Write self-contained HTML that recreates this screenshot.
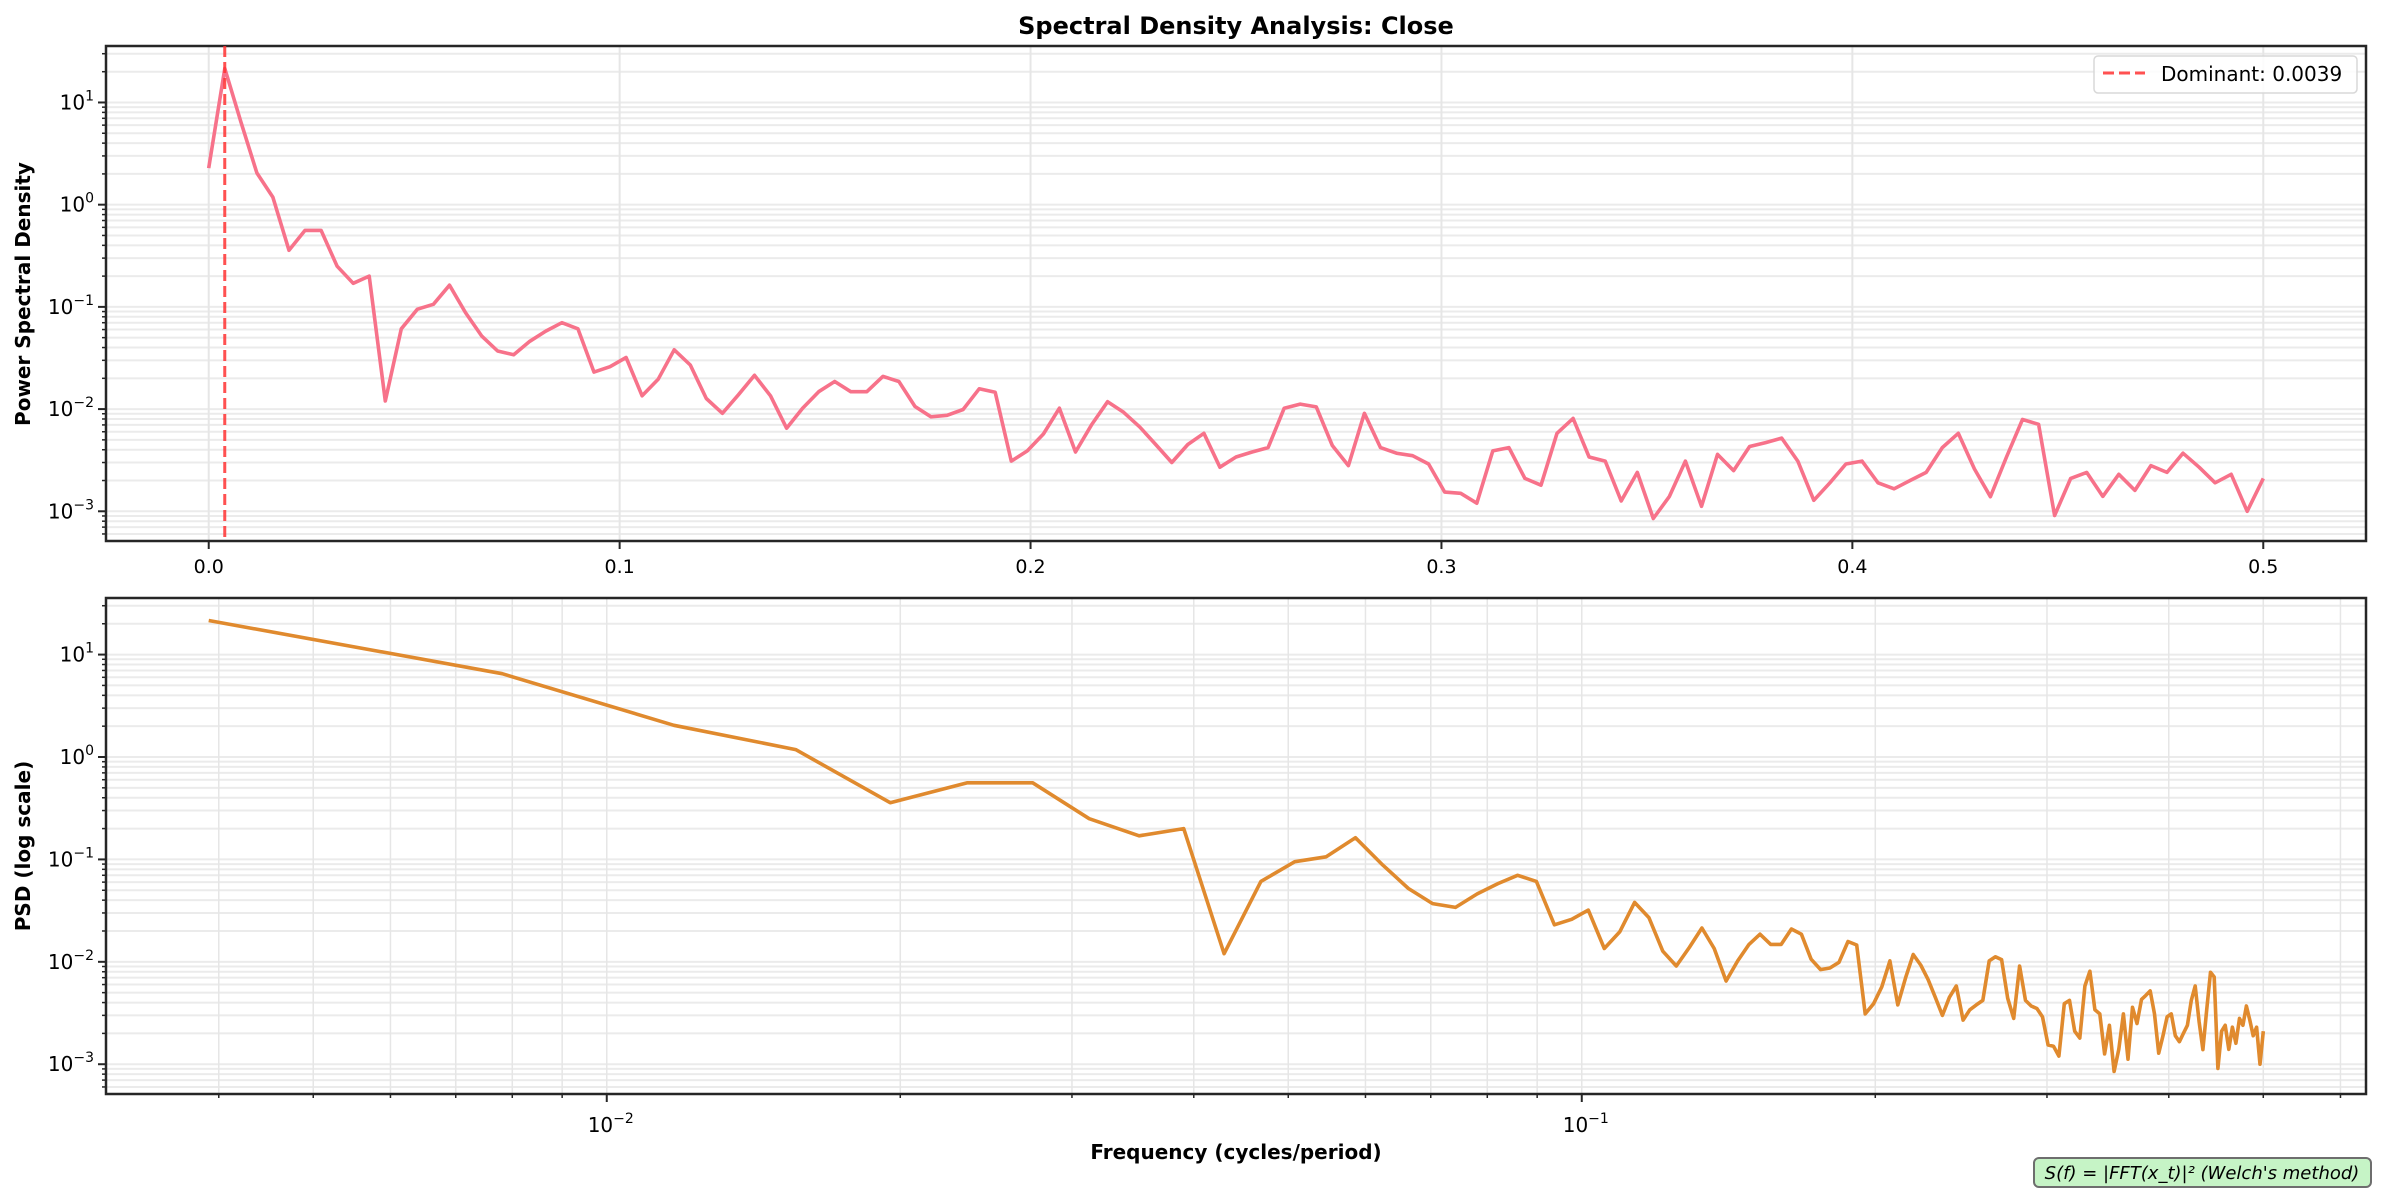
<!DOCTYPE html>
<html><head><meta charset="utf-8"><style>
html,body{margin:0;padding:0;background:#fff;}
svg{display:block;font-family:"DejaVu Sans","Liberation Sans",sans-serif;}
</style></head><body>
<svg id="chart" width="2383" height="1198" viewBox="0 0 2383 1198" xmlns="http://www.w3.org/2000/svg">
<rect width="2383" height="1198" fill="#fff"/>
<text x="1236" y="34" text-anchor="middle" font-size="24" font-weight="bold" fill="#000">Spectral Density Analysis: Close</text>
<g id="top"></g>
<g id="bottom"></g>
<text transform="translate(30,294) rotate(-90)" text-anchor="middle" font-size="20" font-weight="bold">Power Spectral Density</text>
<text transform="translate(30,846) rotate(-90)" text-anchor="middle" font-size="20" font-weight="bold">PSD (log scale)</text>
<text x="1236" y="1159" text-anchor="middle" font-size="20" font-weight="bold">Frequency (cycles/period)</text>
<g>
<rect x="2034" y="1158" width="337" height="29" rx="5" fill="#c6f4c6" stroke="#6e6e6e" stroke-width="2"/>
<text x="2202" y="1179" text-anchor="middle" font-size="18" font-style="italic">S(f) = |FFT(x_t)|² (Welch's method)</text>
</g>
</svg>
<script>
const nfft = 256;
const psd = [2.28,21.5,6.5,2.04,1.18,0.358,0.56,0.56,0.25,0.17,
0.2,0.012,0.061,0.095,0.106,0.163,0.088,0.052,0.037,0.034,
0.046,0.058,0.070,0.061,0.023,0.026,0.032,0.0135,0.0196,0.038,
0.027,0.0127,0.0091,0.0138,0.0214,0.0135,0.0065,0.0102,0.0148,0.0186,
0.0148,0.0148,0.0209,0.0186,0.0106,0.0084,0.0087,0.0099,0.0158,0.0146,
0.0031,0.0039,0.0057,0.0102,0.0038,0.0070,0.0118,0.0093,0.0067,0.0045,
0.0030,0.0045,0.0058,0.0027,0.0034,0.0038,0.0042,0.0102,0.0112,0.0105,
0.0044,0.0028,0.0091,0.0042,0.0037,0.0035,0.0029,0.00154,0.0015,0.0012,
0.0039,0.0042,0.0021,0.0018,0.0058,0.0081,0.0034,0.0031,0.00126,0.0024,
0.00085,0.0014,0.0031,0.00112,0.0036,0.0025,0.0043,0.0047,0.0052,0.0031,
0.00128,0.0019,0.0029,0.0031,0.0019,0.00166,0.002,0.0024,0.0042,0.0058,
0.0026,0.00139,0.0034,0.0079,0.0071,0.00091,0.0021,0.0024,0.0014,0.0023,
0.0016,0.0028,0.0024,0.0037,0.0027,0.0019,0.0023,0.001,0.0021];
const freqs = psd.map((v,i)=>i/nfft);
const topXTicks = [0,0.1,0.2,0.3,0.4,0.5];
const topXTickLabels = ["0.0","0.1","0.2","0.3","0.4","0.5"];
const yTickExps = [-3,-2,-1,0,1];
const bottomXTickExps = [-2,-1];
const dominantFreq = 0.0039;
const dominantLabel = "Dominant: 0.0039";

const NS="http://www.w3.org/2000/svg";
function mk(parent,tag,attrs){const e=document.createElementNS(NS,tag);for(const k in attrs)e.setAttribute(k,attrs[k]);parent.appendChild(e);return e;}
const L=106,R=2366;
function logRange(vals){const ls=vals.map(Math.log10);const mn=Math.min(...ls),mx=Math.max(...ls),r=mx-mn;return [mn-0.05*r,mx+0.05*r];}

function expLabel(g,x,y,exp,anchor){
  const t=mk(g,'text',{x:x,y:y,'font-size':20,'text-anchor':anchor,fill:'#000'});
  
  
  t.appendChild(document.createTextNode('10'));
  const s=mk(t,'tspan',{dy:-9,'font-size':14});
  s.textContent=(exp<0?'\u2212':'')+Math.abs(exp);
}

function drawPanel(gid,top,bottom,xlog,xs,ys,color){
  const g=document.getElementById(gid);
  const [ylo,yhi]=logRange(ys);
  const Y=v=>bottom-(Math.log10(v)-ylo)/(yhi-ylo)*(bottom-top);
  let X;
  if(xlog){const [a,b]=logRange(xs);X=v=>L+(Math.log10(v)-a)/(b-a)*(R-L);}
  else{const mn=Math.min(...xs),mx=Math.max(...xs),r=mx-mn,a=mn-0.05*r,b=mx+0.05*r;X=v=>L+(v-a)/(b-a)*(R-L);}
  const grid=mk(g,'g',{});
  
  
  for(let e=Math.floor(ylo);e<=Math.ceil(yhi);e++){
    for(let m=1;m<10;m++){
      const v=m*Math.pow(10,e);const y=Y(v);
      if(y<top||y>bottom)continue;
      mk(grid,'line',{x1:L,x2:R,y1:y,y2:y,stroke:'#ebebeb','stroke-width':2});
      mk(g,'line',{x1:L,x2:L-(m===1?8:4),y1:y,y2:y,stroke:'#262626','stroke-width':m===1?2:1.5});
    }
  }
  yTickExps.forEach(e=>{const y=Y(Math.pow(10,e));expLabel(g,L-12,y+7,e,'end');});
  if(xlog){
    const [a,b]=logRange(xs);
    for(let e=Math.floor(a);e<=Math.ceil(b);e++){
      for(let m=1;m<10;m++){
        const v=m*Math.pow(10,e);const x=X(v);
        if(x<L||x>R)continue;
        mk(grid,'line',{x1:x,x2:x,y1:top,y2:bottom,stroke:'#e6e6e6','stroke-width':1.5});
        mk(g,'line',{x1:x,x2:x,y1:bottom,y2:bottom+(m===1?8:4),stroke:'#262626','stroke-width':m===1?2:1.5});
      }
    }
    bottomXTickExps.forEach(e=>expLabel(g,X(Math.pow(10,e))+4,bottom+38,e,'middle'));
  } else {
    topXTicks.forEach((t,i)=>{
      const x=X(t);
      mk(grid,'line',{x1:x,x2:x,y1:top,y2:bottom,stroke:'#e6e6e6','stroke-width':2});
      mk(g,'line',{x1:x,x2:x,y1:bottom,y2:bottom+8,stroke:'#262626','stroke-width':2});
      const tl=mk(g,'text',{x:x,y:bottom+32,'font-size':19,'text-anchor':'middle'});
      
      
      tl.textContent=topXTickLabels[i];
    });
  }
  const pts=xs.map((x,i)=>X(x).toFixed(1)+','+Y(ys[i]).toFixed(1)).join(' ');
  const line=mk(g,'polyline',{points:pts,fill:'none',stroke:color,'stroke-width':3.6,'stroke-linejoin':'round'});
  
  
  const sp=mk(g,'rect',{x:L,y:top,width:R-L,height:bottom-top,fill:'none',stroke:'#262626','stroke-width':2.5});
  
  
  return {X,Y,g};
}

const t=drawPanel('top',46,541,false,freqs,psd,'#f7728a');
const dx=t.X(dominantFreq);
const dl=mk(t.g,'line',{x1:dx,x2:dx,y1:46,y2:541,stroke:'#ff3333','stroke-opacity':0.85,'stroke-width':3,'stroke-dasharray':'11,5'});


const lg=mk(t.g,'g',{});


mk(lg,'rect',{x:2094,y:56,width:263,height:37,rx:4,fill:'#fff','fill-opacity':0.85,stroke:'#d8d8d8','stroke-width':1.5});
mk(lg,'line',{x1:2103,x2:2145,y1:73,y2:73,stroke:'#ff3333','stroke-opacity':0.85,'stroke-width':3,'stroke-dasharray':'11,5'});
const lt=mk(lg,'text',{x:2161,y:81,'font-size':20});


lt.textContent=dominantLabel;

drawPanel('bottom',598,1094,true,freqs.slice(1),psd.slice(1),'#e08a2e');
</script>
</body></html>
